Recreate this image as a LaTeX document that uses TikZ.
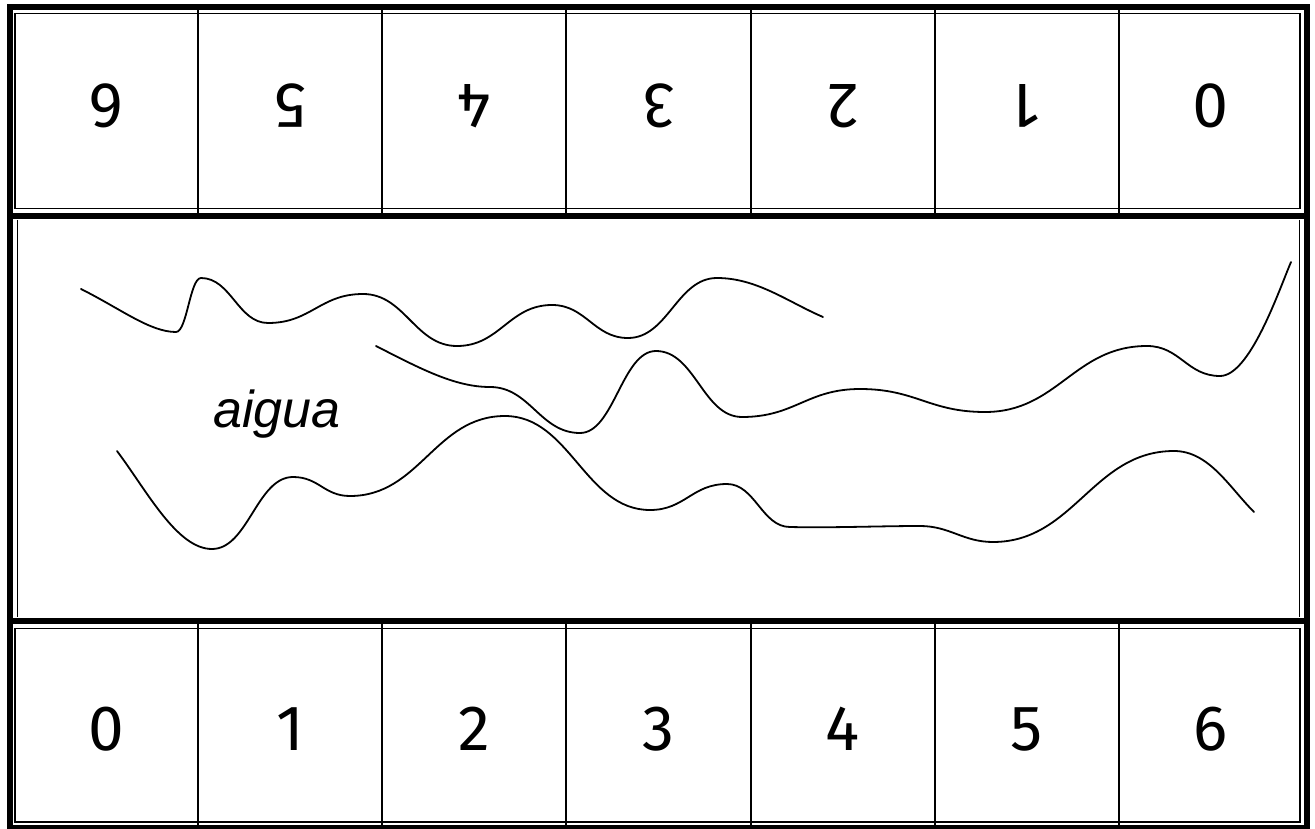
\documentclass[tikz,border=0pt]{standalone}
\usepackage{fontspec}
\setmainfont{Liberation Sans}
\newfontfamily\digitfont{Fira Sans}
\tikzset{
  thickframe/.style={line width=6pt},
  thinframe/.style={line width=1.3pt},
  divider/.style={line width=1.3pt},
  wave/.style={line width=1.8pt, line cap=round},
  digit/.style={font=\digitfont\fontsize{64}{64}\selectfont, inner sep=0pt},
  watertext/.style={font=\itshape\fontsize{52}{52}\selectfont, inner sep=0pt}
}
\begin{document}
\begin{tikzpicture}[x=1pt, y=-1pt]
\useasboundingbox (0,0) rectangle (1315,829);
\fill[white] (0,0) rectangle (1315,829);
% top ruler
\draw[thickframe] (9.75,7) rectangle (1306.5,216);
\draw[thinframe] (15,13.5) rectangle (1300,208.5);
% middle (water) box
\draw[thickframe] (9.75,216) -- (9.75,620.5);
\draw[thickframe] (1306.5,216) -- (1306.5,620.5);
\draw[thinframe] (17.5,220) -- (17.5,617);
\draw[thinframe] (1299.5,220) -- (1299.5,617);
% bottom ruler
\draw[thickframe] (9.75,620.5) rectangle (1306.5,828);
\draw[thinframe] (15,628.5) rectangle (1300,822);
% cell dividers
\foreach \x in {198,382,566,751,935,1119} {
  \draw[divider] (\x,7) -- (\x,216);
  \draw[divider] (\x,620.5) -- (\x,828);
}
% digits
\foreach \i in {0,...,6} {
  \node[digit] (b\i) at ({106.5+184*\i},729) {\i};
  \node[digit, rotate=180] (t\i) at ({1210.5-184*\i},106) {\i};
}
% label
\node[watertext, anchor=base west] (aigua) at (213,427) {aigua};
% waves
\draw[wave] (81,289) .. controls (121,309) and (150,332) .. (176,332)
 .. controls (187,332) and (190,278) .. (201,278)
 .. controls (231,278) and (238,323) .. (268,323)
 .. controls (311,323) and (320,294) .. (363,294)
 .. controls (405,294) and (415,346) .. (457,346)
 .. controls (500,346) and (509,305) .. (552,305)
 .. controls (586,305) and (594,338) .. (628,338)
 .. controls (668,338) and (677,278) .. (717,278)
 .. controls (757,278) and (788,302) .. (823,317);
\draw[wave] (376,346) .. controls (421,369) and (455,387) .. (490,387)
 .. controls (530,387) and (540,433) .. (580,433)
 .. controls (614,433) and (622,351) .. (656,351)
 .. controls (695,351) and (703,417) .. (742,417)
 .. controls (795,417) and (807,389) .. (860,389)
 .. controls (916,389) and (929,412) .. (985,412)
 .. controls (1058,412) and (1074,346) .. (1147,346)
 .. controls (1180,346) and (1187,376) .. (1220,376)
 .. controls (1250,376) and (1279,290) .. (1291,262);
\draw[wave] (117,451) .. controls (147,491) and (177,549) .. (212,549)
 .. controls (248,549) and (257,477) .. (293,477)
 .. controls (319,477) and (324,496) .. (350,496)
 .. controls (420,496) and (435,416) .. (505,416)
 .. controls (570,416) and (585,510) .. (650,510)
 .. controls (685,510) and (692,484) .. (727,484)
 .. controls (755,484) and (762,527) .. (790,527)
 .. controls (830,528) and (880,526) .. (920,526)
 .. controls (950,526) and (963,542) .. (993,542)
 .. controls (1074,542) and (1093,451) .. (1174,451)
 .. controls (1209,451) and (1229,487) .. (1254,512);
\end{tikzpicture}
\end{document}
